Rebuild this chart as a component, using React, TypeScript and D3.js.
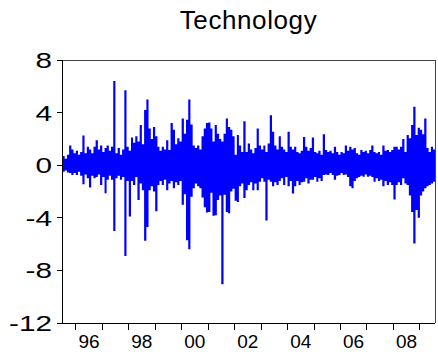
import React from 'react';
import * as d3 from 'd3';

// monthly high / low of the daily series, Jul 1995 .. Jul 2009
const highs: number[] = [
  0.7, 0.5, 0.8, 1.5, 1.2, 0.9, 1.1, 0.8, 1.0, 2.25, 0.9, 1.4, 1.2, 0.9, 1.4, 1.9, 1.2, 1.5, 1.0, 1.3,
  1.5, 1.1, 1.4, 6.4, 0.9, 1.3, 0.8, 1.2, 5.7, 1.4, 1.1, 2.1, 1.7, 2.2, 1.8, 3.05, 1.6, 4.2, 5.0, 2.8,
  2.0, 2.9, 2.2, 1.4, 1.1, 1.4, 1.2, 1.9, 1.15, 3.2, 2.7, 1.6, 2.05, 1.8, 3.55, 2.4, 3.45, 5.0, 3.1, 1.5,
  1.3, 1.5, 1.2, 2.2, 2.8, 3.2, 3.25, 2.8, 1.8, 3.05, 2.4, 2.0, 1.8, 2.4, 3.55, 2.9, 2.7, 2.2, 0.8, 2.3,
  1.5, 1.0, 3.35, 1.0, 1.65, 1.2, 0.9, 1.3, 2.8, 1.5, 1.2, 1.5, 1.0, 1.65, 3.8, 2.55, 1.5, 1.2, 2.2, 1.4,
  1.2, 1.0, 2.55, 1.4, 1.2, 1.4, 1.0, 0.9, 1.1, 2.15, 1.4, 1.1, 1.3, 2.1, 1.0, 0.9, 1.1, 0.8, 2.35, 1.15,
  1.0, 1.1, 0.9, 1.4, 1.0, 0.8, 1.0, 0.9, 1.5, 1.1, 1.4, 1.2, 1.3, 0.9, 0.8, 1.15, 1.0, 1.1, 0.9, 1.15,
  1.5, 1.0, 0.9, 1.0, 0.8, 1.5, 1.1, 1.15, 1.0, 1.15, 1.4, 1.4, 1.2, 1.4, 2.0, 1.0, 2.3, 2.05, 3.05, 4.45,
  2.3, 2.85, 2.7, 2.35, 3.55, 1.3, 1.0, 1.4, 1.2,
];

const lows: number[] = [
  -0.5, -0.4, -0.55, -0.6, -0.75, -0.6, -0.75, -0.5, -0.8, -1.45, -0.7, -1.0, -1.7, -0.8, -1.0, -0.9, -0.7, -1.5, -0.9, -2.14,
  -1.1, -0.8, -1.1, -5.0, -1.0, -0.8, -1.1, -0.9, -6.9, -1.2, -3.9, -1.2, -1.5, -0.9, -2.65, -1.4, -1.9, -5.75, -4.7, -1.9,
  -1.6, -2.0, -3.5, -1.5, -1.2, -1.5, -1.1, -1.9, -1.4, -1.2, -1.75, -1.3, -1.5, -1.2, -3.0, -2.2, -5.7, -6.4, -2.4, -1.75,
  -1.4, -1.6, -1.75, -2.45, -3.2, -3.6, -3.55, -2.1, -3.85, -3.8, -2.65, -2.3, -9.05, -2.25, -3.55, -3.65, -2.0, -1.8, -2.7, -2.8,
  -1.6, -1.4, -2.5, -1.9, -1.5, -1.3, -1.9, -1.4, -1.9, -1.25, -1.0, -1.25, -4.2, -1.1, -1.25, -1.6, -1.3, -1.5, -1.2, -1.0,
  -1.5, -0.9, -1.6, -1.2, -2.15, -1.6, -1.2, -1.5, -1.3, -1.25, -1.0, -1.4, -1.1, -1.1, -0.9, -1.25, -1.0, -1.2, -0.75, -0.7,
  -0.75, -0.6, -0.75, -1.1, -0.8, -0.75, -0.6, -0.75, -0.7, -0.9, -1.6, -1.75, -1.2, -1.0, -0.9, -0.8, -0.87, -0.7, -0.87, -0.8,
  -0.9, -1.25, -1.0, -1.2, -1.1, -1.6, -1.2, -1.5, -1.3, -1.5, -2.6, -1.5, -1.3, -1.5, -1.0, -1.4, -1.5, -2.3, -3.55, -5.95,
  -3.4, -4.0, -2.3, -2.0, -1.75, -1.6, -1.5, -1.4, -1.25,
];

const yTicks = [8, 4, 0, -4, -8, -12];
const tickYears = d3.range(1996, 2010);
const labelYears = [1996, 1998, 2000, 2002, 2004, 2006, 2008];

const width = 438;
const height = 359;
const margin = { top: 60, right: 3, bottom: 36, left: 62 };

const App: React.FC = () => {
  const x = d3.scaleTime()
    .domain([new Date(1995, 5, 25), new Date(2009, 6, 28)])
    .range([margin.left, width - margin.right]);
  const y = d3.scaleLinear()
    .domain([-12, 8])
    .range([height - margin.bottom, margin.top]);

  const months = d3.timeMonth.range(new Date(1995, 6, 1), new Date(2009, 7, 1));
  const points = months.map((d, i) => ({ date: d, hi: highs[i], lo: lows[i] }));
  // close the last step at the end of the month
  const last = points[points.length - 1];
  points.push({ date: d3.timeMonth.offset(last.date, 1), hi: last.hi, lo: last.lo });

  const area = d3.area<{ date: Date; hi: number; lo: number }>()
    .x(d => x(d.date))
    .y0(d => y(d.lo))
    .y1(d => y(d.hi))
    .curve(d3.curveStepAfter);

  const x0 = margin.left;
  const x1 = width - margin.right;
  const y0 = height - margin.bottom;
  const y1 = margin.top;
  const font = 'Liberation Sans, Arial, Helvetica, sans-serif';

  return (
    <svg width={width} height={height} style={{ position: 'absolute', left: 0, top: 0, background: '#fff' }}>
      <text x={(x0 + x1) / 2} y={28.5} textAnchor="middle" fontFamily={font} fontSize={26} letterSpacing={0.6} fill="#000">
        Technology
      </text>

      <path d={area(points) || ''} fill="#0000ff" />

      {/* frame */}
      <g shapeRendering="crispEdges" fill="none">
        <line x1={x0} x2={x1} y1={y1} y2={y1} stroke="#444" />
        <line x1={x1} x2={x1} y1={y1} y2={y0} stroke="#444" />
        <line x1={x0} x2={x0} y1={y1} y2={y0} stroke="#000" />
        <line x1={x0} x2={x1} y1={y0} y2={y0} stroke="#000" />
      </g>

      {/* y axis */}
      <g shapeRendering="crispEdges">
        {yTicks.map(t => (
          <line key={t} x1={x0 - 5} x2={x0} y1={y(t)} y2={y(t)} stroke="#000" />
        ))}
      </g>
      {yTicks.map(t => (
        <text
          key={t}
          transform={`translate(52,${y(t) + 8}) scale(1.35,1)`}
          textAnchor="end"
          fontFamily={font}
          fontSize={22}
          fill="#000"
        >
          {t}
        </text>
      ))}

      {/* x axis */}
      <g shapeRendering="crispEdges">
        {tickYears.map(yr => (
          <line key={yr} x1={x(new Date(yr, 0, 1))} x2={x(new Date(yr, 0, 1))} y1={y0} y2={y0 + 7} stroke="#000" />
        ))}
      </g>
      {labelYears.map(yr => (
        <text
          key={yr}
          x={x(new Date(yr, 6, 1))}
          y={347.5}
          textAnchor="middle"
          fontFamily={font}
          fontSize={19}
          fill="#000"
        >
          {String(yr).slice(2)}
        </text>
      ))}
    </svg>
  );
};

export default App;
